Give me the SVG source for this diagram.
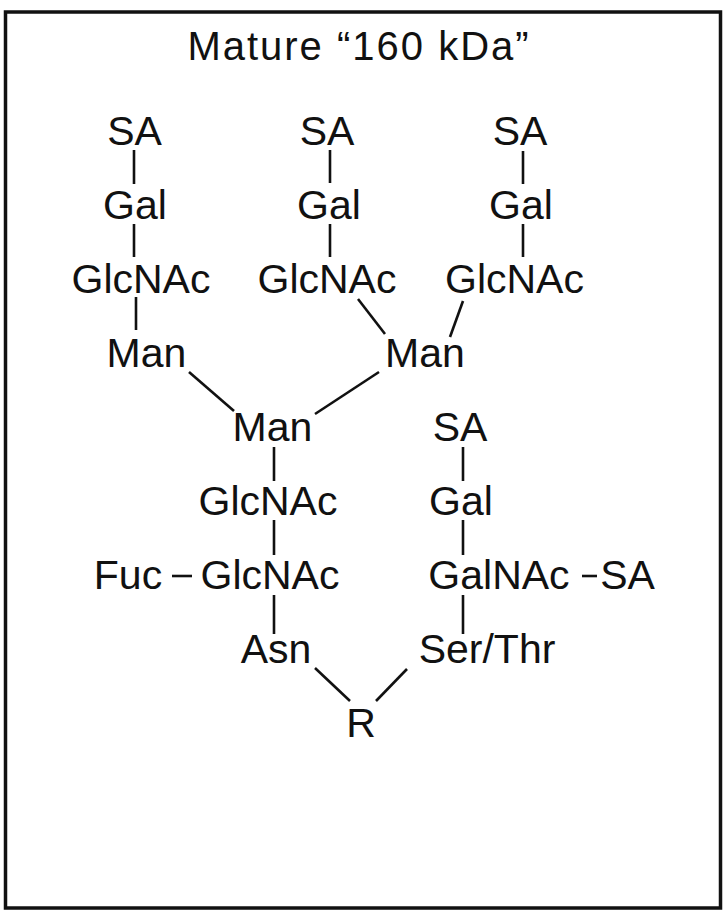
<svg xmlns="http://www.w3.org/2000/svg" width="726" height="912" viewBox="0 0 726 912">
<style>
text{font-family:"Liberation Sans",Arial,Helvetica,sans-serif;font-size:41px;fill:#111;text-anchor:middle}
.title{font-size:40px;letter-spacing:2px}
.bond{stroke:#111;stroke-width:2.6;fill:none;stroke-linecap:butt}
</style>
<rect x="0" y="0" width="726" height="912" fill="#fff"/>
<rect x="5.5" y="12" width="715" height="896" fill="none" stroke="#111" stroke-width="3.5"/>
<text class="title" x="359" y="60">Mature “160 kDa”</text>
<g id="connectors" class="bond">
<line x1="134" y1="150" x2="134" y2="184"/>
<line x1="134" y1="224" x2="134" y2="257"/>
<line x1="136" y1="297" x2="136" y2="330"/>
<line x1="330" y1="150" x2="330" y2="183"/>
<line x1="330" y1="224" x2="330" y2="257"/>
<line x1="523" y1="151" x2="523" y2="184"/>
<line x1="523" y1="224" x2="523" y2="257"/>
<line x1="358" y1="299" x2="385" y2="334"/>
<line x1="463" y1="301" x2="450" y2="337"/>
<line x1="189" y1="372" x2="234" y2="411"/>
<line x1="379" y1="372" x2="315" y2="414"/>
<line x1="274" y1="447" x2="274" y2="481"/>
<line x1="274" y1="520" x2="274" y2="555"/>
<line x1="274" y1="595" x2="274" y2="634"/>
<line x1="172" y1="576" x2="192" y2="576"/>
<line x1="463" y1="447" x2="463" y2="481"/>
<line x1="463" y1="520" x2="463" y2="555"/>
<line x1="463" y1="595" x2="463" y2="634"/>
<line x1="582" y1="576" x2="597" y2="576"/>
<line x1="315" y1="668" x2="350" y2="701"/>
<line x1="407" y1="669" x2="376" y2="701"/>
</g>
<g id="sa1"><text x="134.5" y="145">SA</text></g>
<g id="sa2"><text x="327" y="145">SA</text></g>
<g id="sa3"><text x="520" y="145">SA</text></g>
<g id="gal1"><text x="135" y="219">Gal</text></g>
<g id="gal2"><text x="329" y="219">Gal</text></g>
<g id="gal3"><text x="521" y="219">Gal</text></g>
<g id="glcnac1"><text x="141" y="293">GlcNAc</text></g>
<g id="glcnac2"><text x="327" y="293">GlcNAc</text></g>
<g id="glcnac3"><text x="514.5" y="293">GlcNAc</text></g>
<g id="man1"><text x="146.5" y="367">Man</text></g>
<g id="man2"><text x="425" y="367">Man</text></g>
<g id="man-core"><text x="272.5" y="441">Man</text></g>
<g id="glcnac-core1"><text x="268" y="515">GlcNAc</text></g>
<g id="glcnac-core2"><text x="270" y="589">GlcNAc</text></g>
<g id="fuc"><text x="128" y="589">Fuc</text></g>
<g id="asn"><text x="276" y="663">Asn</text></g>
<g id="r"><text x="361" y="737">R</text></g>
<g id="sa-o"><text x="460" y="441">SA</text></g>
<g id="gal-o"><text x="461" y="515">Gal</text></g>
<g id="galnac"><text x="499" y="589">GalNAc</text></g>
<g id="sa-side"><text x="627.5" y="589">SA</text></g>
<g id="serthr"><text x="487" y="663">Ser/Thr</text></g>
</svg>
